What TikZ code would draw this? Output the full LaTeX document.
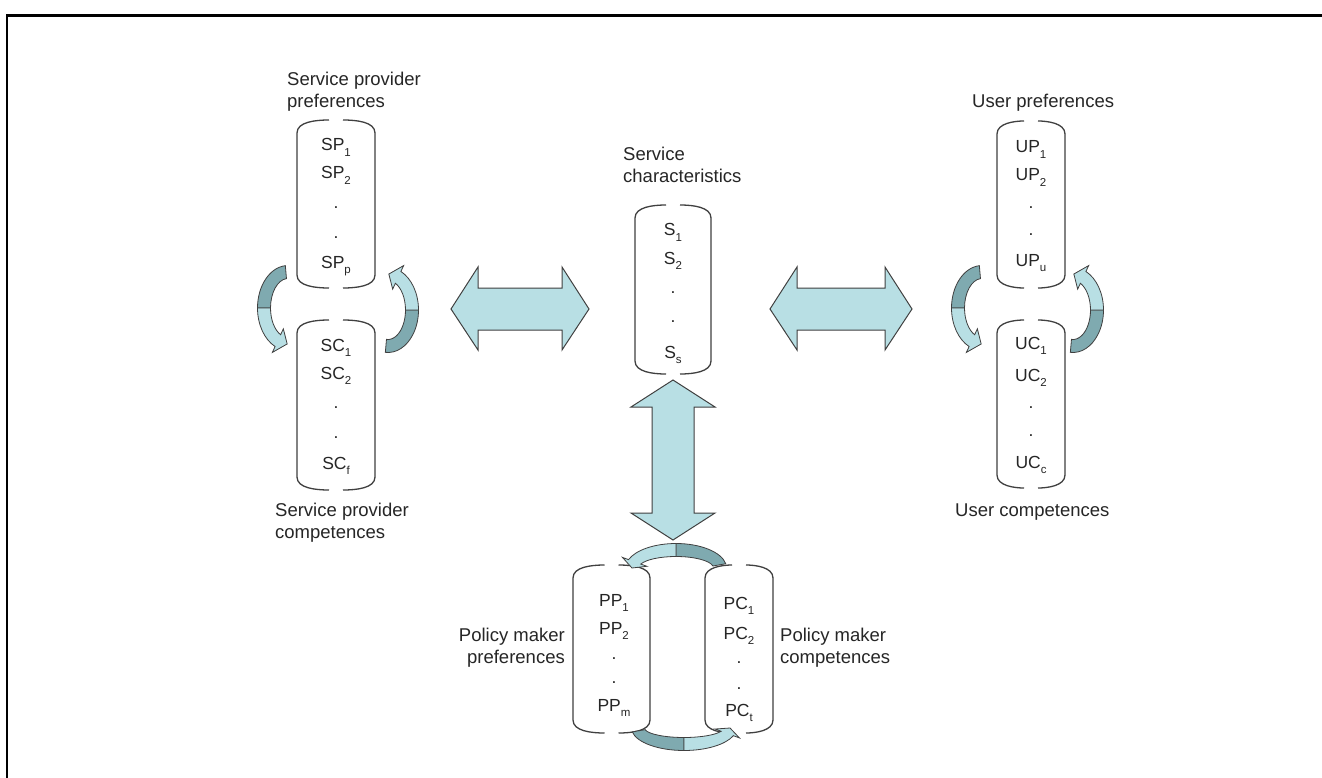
\documentclass[tikz,border=0pt]{standalone}
\usepackage{fontspec}
\setmainfont{Liberation Sans}
\definecolor{lightarr}{HTML}{B8DFE4}
\definecolor{darkarr}{HTML}{7FAAB0}
\definecolor{linegray}{HTML}{404040}
\definecolor{txt}{HTML}{262626}
\newcommand\sbs[1]{\raisebox{-0.32em}{\fontsize{11.5}{11.5}\selectfont #1}}
\newcommand\cylshape[4]{%
  \pgfmathsetmacro\cmx{(#1+#2)/2}%
  \draw[cylline] (\cmx-7,#3) .. controls (#1+18,#3) and (#1,#3+2) .. (#1,#3+13) -- (#1,#4-13) .. controls (#1,#4-2) and (#1+18,#4) .. (\cmx-7,#4);
  \draw[cylline] (\cmx+7,#3) .. controls (#2-18,#3) and (#2,#3+2) .. (#2,#3+13) -- (#2,#4-13) .. controls (#2,#4-2) and (#2-18,#4) .. (\cmx+7,#4);
}
\newcommand\curvarr[8]{%
  \begin{scope}[shift={(#1,#2)}]
  \pgfmathsetmacro\ao{#3+6.5}\pgfmathsetmacro\bo{#4+6.5}%
  \pgfmathsetmacro\ai{#3-6.5}\pgfmathsetmacro\bi{#4-6.5}%
  \pgfmathsetmacro\aho{#3+13}\pgfmathsetmacro\bho{#4+13}%
  \pgfmathsetmacro\ahi{#3-13}\pgfmathsetmacro\bhi{#4-13}%
  \filldraw[darkpart] (#5:{\ao} and {\bo}) arc[start angle=#5,end angle=#6,x radius=\ao,y radius=\bo] -- (#6:{\ai} and {\bi}) arc[start angle=#6,end angle=#5,x radius=\ai,y radius=\bi] -- cycle;
  \filldraw[lightpart] (#6:{\ao} and {\bo}) arc[start angle=#6,end angle=#7,x radius=\ao,y radius=\bo] -- (#7:{\aho} and {\bho}) -- (#8:#3 and #4) -- (#7:{\ahi} and {\bhi}) -- (#7:{\ai} and {\bi}) arc[start angle=#7,end angle=#6,x radius=\ai,y radius=\bi] -- cycle;
  \end{scope}}
\begin{document}
\begin{tikzpicture}[x=1pt,y=-1pt,
  cylline/.style={draw=linegray,line width=1.3pt},
  item/.style={anchor=base,inner sep=0pt,font=\fontsize{17.5}{20}\selectfont,text=txt},
  ttl/.style={anchor=base west,inner sep=0pt,font=\fontsize{18.5}{22}\selectfont,text=txt},
  ttlr/.style={ttl,anchor=base east},
  bigarr/.style={fill=lightarr,draw=linegray,line width=1pt,line join=miter},
  darkpart/.style={fill=darkarr,draw=linegray,line width=0.8pt},
  lightpart/.style={fill=lightarr,draw=linegray,line width=0.8pt}]
\useasboundingbox (0,0) rectangle (1322,778);
\fill[white] (0,0) rectangle (1322,778);
\draw[line width=3pt] (6,16) -- (1322,16);
\draw[line width=2pt] (7,15) -- (7,778);

% cylinders
\cylshape{297}{375}{120}{288}
\cylshape{297}{375}{320}{490}
\cylshape{635}{711}{205}{374}
\cylshape{997}{1065}{121}{288}
\cylshape{997}{1065}{320}{488}
\cylshape{573}{650}{565}{733}
\cylshape{705}{773}{565}{733}

% titles
\node[ttl] (spt1) at (287,86) {Service provider};
\node[ttl] (spt2) at (287,108) {preferences};
\node[ttl] (sct1) at (275,516) {Service provider};
\node[ttl] (sct2) at (275,538) {competences};
\node[ttl] (st1) at (623,161) {Service};
\node[ttl] (st2) at (623,183) {characteristics};
\node[ttl] (upt) at (972,108) {User preferences};
\node[ttl] (uct) at (955,516) {User competences};
\node[ttlr] (ppt1) at (565,641) {Policy maker};
\node[ttlr] (ppt2) at (565,663) {preferences};
\node[ttl] (pct1) at (780,641) {Policy maker};
\node[ttl] (pct2) at (780,663) {competences};

% items
\node[item] (sp1) at (336,151) {SP\sbs{1}};
\node[item] (sp2) at (336,179) {SP\sbs{2}};
\node[item] (spd1) at (336,208) {.};
\node[item] (spd2) at (336,238) {.};
\node[item] (spp) at (336,268) {SP\sbs{p}};

\node[item] (sc1) at (336,351) {SC\sbs{1}};
\node[item] (sc2) at (336,379) {SC\sbs{2}};
\node[item] (scd1) at (336,408) {.};
\node[item] (scd2) at (336,438) {.};
\node[item] (scf) at (336,469) {SC\sbs{f}};

\node[item] (s1) at (673,236) {S\sbs{1}};
\node[item] (s2) at (673,264) {S\sbs{2}};
\node[item] (sd1) at (673,293) {.};
\node[item] (sd2) at (673,322) {.};
\node[item] (ss) at (673,358) {S\sbs{s}};

\node[item] (up1) at (1031,153) {UP\sbs{1}};
\node[item] (up2) at (1031,181) {UP\sbs{2}};
\node[item] (upd1) at (1031,208) {.};
\node[item] (upd2) at (1031,236) {.};
\node[item] (upu) at (1031,266) {UP\sbs{u}};

\node[item] (uc1) at (1031,349) {UC\sbs{1}};
\node[item] (uc2) at (1031,381) {UC\sbs{2}};
\node[item] (ucd1) at (1031,408) {.};
\node[item] (ucd2) at (1031,436) {.};
\node[item] (ucc) at (1031,468) {UC\sbs{c}};

\node[item] (pp1) at (614,606) {PP\sbs{1}};
\node[item] (pp2) at (614,634) {PP\sbs{2}};
\node[item] (ppd1) at (614,659) {.};
\node[item] (ppd2) at (614,683) {.};
\node[item] (ppm) at (614,711) {PP\sbs{m}};

\node[item] (pc1) at (739,609) {PC\sbs{1}};
\node[item] (pc2) at (739,639) {PC\sbs{2}};
\node[item] (pcd1) at (739,663) {.};
\node[item] (pcd2) at (739,689) {.};
\node[item] (pct) at (739,716) {PC\sbs{t}};

% double arrows
\draw[bigarr] (451,309) -- (478,267) -- (478,288) -- (562,288) -- (562,267) -- (589,309) -- (562,350) -- (562,330) -- (478,330) -- (478,350) -- cycle;
\draw[bigarr] (770,309) -- (797,267) -- (797,288) -- (885,288) -- (885,267) -- (912,309) -- (885,350) -- (885,330) -- (797,330) -- (797,350) -- cycle;
\draw[bigarr] (673,380) -- (715,407) -- (694,407) -- (694,513) -- (715,513) -- (673,540) -- (631,513) -- (652,513) -- (652,407) -- (631,407) -- cycle;

% curved arrows
\curvarr{288}{308}{24}{36}{-95}{-180}{-245}{-268}
\curvarr{388}{310}{24}{36}{95}{0}{-65}{-88}
\curvarr{982}{308}{24}{36}{-95}{-180}{-245}{-268}
\curvarr{1073}{310}{24}{36}{95}{0}{-65}{-88}
\curvarr{676}{568}{44}{18}{-10}{-90}{-160}{-180}
\curvarr{684}{728}{46}{16}{170}{90}{20}{0}
\end{tikzpicture}
\end{document}
